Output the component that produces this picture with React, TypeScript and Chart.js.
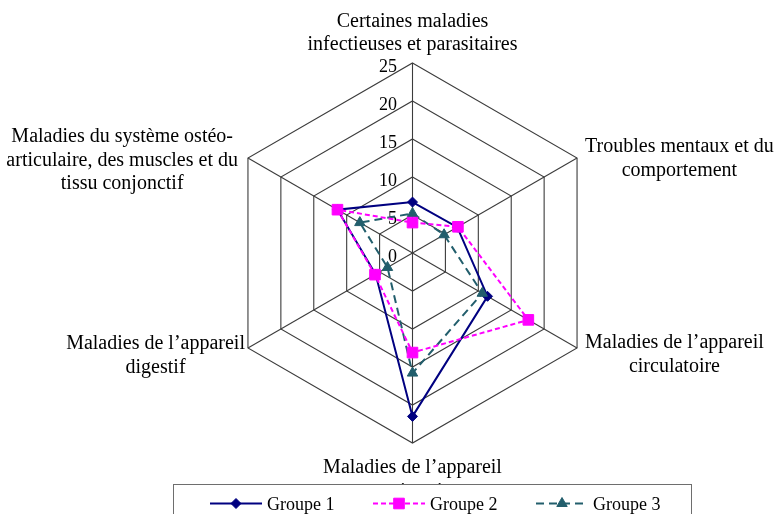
import React, { useEffect, useRef } from 'react';
import { Chart, registerables } from 'chart.js';

Chart.register(...registerables);

// ---- data ----
const CATEGORIES: string[][] = [
  ['Certaines maladies', 'infectieuses et parasitaires'],
  ['Troubles mentaux et du', 'comportement'],
  ['Maladies de l’appareil', 'circulatoire'],
  ['Maladies de l’appareil', 'respiratoire'],
  ['Maladies de l’appareil', 'digestif'],
  ['Maladies du système ostéo-', 'articulaire, des muscles et du', 'tissu conjonctif'],
];
const SERIES_NAMES = ['Groupe 1', 'Groupe 2', 'Groupe 3'];
const GROUPE_1 = [6.7, 6.8, 11.4, 21.5, 5.6, 11.4];
const GROUPE_2 = [4.0, 6.9, 17.6, 13.1, 5.7, 11.4];
const GROUPE_3 = [5.2, 4.8, 10.6, 15.8, 3.8, 8.0];
const TICK_VALUES = [0, 5, 10, 15, 20, 25];

// ---- styling / layout ----
const FONT = "'Liberation Serif', 'Times New Roman', serif";
const GRID = '#3c3c3c';
const COLORS = ['#000080', '#FF00FF', '#225E6C'];
const DASHES: number[][] = [[], [5, 3], [8, 5]];
const POINT_STYLES = ['rectRot', 'rect', 'triangle'];
const POINT_RADII = [5, 7.5, 6];
const LINE_H = 23.5;
// per-label placement relative to the outer vertex
const LABEL_LAYOUT = [
  { align: 'center', dx: 0, dy: -13, fromBottom: true },
  { align: 'left', dx: 8, dy: -6, fromBottom: false },
  { align: 'left', dx: 8, dy: 0, fromBottom: false },
  { align: 'center', dx: 0, dy: 30, fromBottom: false },
  { align: 'right', dx: -3, dy: 1, fromBottom: false },
  { align: 'right', dx: -10, dy: -16, fromBottom: false },
];
const LEGEND_BOX = { left: 173.5, top: 484.5, right: 691.5, bottom: 530 };
const LEGEND_ITEMS = { firstX: 210, step: 163, lineLen: 52, textGap: 5, lineY: 503.5, baseY: 509.5 };

function drawMarker(ctx: CanvasRenderingContext2D, style: string, x: number, y: number, r: number, color: string) {
  ctx.save();
  ctx.setLineDash([]);
  ctx.fillStyle = color;
  ctx.strokeStyle = color;
  ctx.lineWidth = 1;
  ctx.beginPath();
  if (style === 'rectRot') {
    ctx.moveTo(x, y - r);
    ctx.lineTo(x + r, y);
    ctx.lineTo(x, y + r);
    ctx.lineTo(x - r, y);
  } else if (style === 'rect') {
    const s = r * Math.SQRT1_2;
    ctx.rect(x - s, y - s, 2 * s, 2 * s);
  } else {
    for (let k = 0; k < 3; k++) {
      const a = (k * 2 * Math.PI) / 3;
      const px = x + Math.sin(a) * r;
      const py = y - Math.cos(a) * r;
      if (k === 0) ctx.moveTo(px, py);
      else ctx.lineTo(px, py);
    }
  }
  ctx.closePath();
  ctx.fill();
  ctx.stroke();
  ctx.restore();
}

const overlayPlugin = {
  id: 'overlay',
  beforeDatasetsDraw(chart: any) {
    const scale = chart.scales.r;
    const ctx: CanvasRenderingContext2D = chart.ctx;
    ctx.save();
    ctx.font = `18px ${FONT}`;
    ctx.fillStyle = '#000';
    ctx.textAlign = 'right';
    ctx.textBaseline = 'alphabetic';
    scale.ticks.forEach((t: any) => {
      const d = scale.getDistanceFromCenterForValue(t.value);
      ctx.fillText(String(t.value), scale.xCenter - 15.5, scale.yCenter - d + 8.5);
    });
    ctx.restore();
  },
  afterDraw(chart: any) {
    const scale = chart.scales.r;
    const ctx: CanvasRenderingContext2D = chart.ctx;
    // category labels
    ctx.save();
    ctx.font = `20px ${FONT}`;
    ctx.fillStyle = '#000';
    ctx.textAlign = 'center';
    ctx.textBaseline = 'alphabetic';
    const labels: string[][] = chart.data.labels;
    labels.forEach((lines, i) => {
      const p = scale.getPointPosition(i, scale.drawingArea);
      const lay = LABEL_LAYOUT[i];
      const maxW = Math.max(...lines.map((l) => ctx.measureText(l).width));
      let cx = p.x + lay.dx;
      if (lay.align === 'left') cx = p.x + lay.dx + maxW / 2;
      if (lay.align === 'right') cx = p.x + lay.dx - maxW / 2;
      let y0 = p.y + lay.dy;
      if (lay.fromBottom) y0 -= (lines.length - 1) * LINE_H;
      lines.forEach((l, k) => ctx.fillText(l, cx, y0 + k * LINE_H));
    });
    ctx.restore();

    // legend box
    ctx.save();
    ctx.fillStyle = '#ffffff';
    ctx.strokeStyle = '#6e6e6e';
    ctx.lineWidth = 1;
    const b = LEGEND_BOX;
    ctx.fillRect(b.left, b.top, b.right - b.left, b.bottom - b.top);
    ctx.strokeRect(b.left, b.top, b.right - b.left, b.bottom - b.top);
    ctx.font = `18px ${FONT}`;
    ctx.fillStyle = '#000';
    ctx.textAlign = 'left';
    ctx.textBaseline = 'alphabetic';
    chart.data.datasets.forEach((ds: any, i: number) => {
      const x0 = LEGEND_ITEMS.firstX + i * LEGEND_ITEMS.step;
      const x1 = x0 + LEGEND_ITEMS.lineLen;
      ctx.save();
      ctx.strokeStyle = ds.borderColor;
      ctx.lineWidth = ds.borderWidth;
      ctx.setLineDash(ds.borderDash || []);
      ctx.beginPath();
      ctx.moveTo(x0, LEGEND_ITEMS.lineY);
      ctx.lineTo(x1, LEGEND_ITEMS.lineY);
      ctx.stroke();
      ctx.restore();
      drawMarker(ctx, ds.pointStyle, (x0 + x1) / 2, LEGEND_ITEMS.lineY, ds.pointRadius, ds.borderColor);
      ctx.fillStyle = '#000';
      ctx.fillText(ds.label, x1 + LEGEND_ITEMS.textGap, LEGEND_ITEMS.baseY);
    });
    ctx.restore();
  },
};

export default function App() {
  const ref = useRef<HTMLCanvasElement | null>(null);

  useEffect(() => {
    if (!ref.current) return;
    const series = [GROUPE_1, GROUPE_2, GROUPE_3];
    const chart = new Chart(ref.current, {
      type: 'radar',
      data: {
        labels: CATEGORIES as any,
        datasets: series.map((values, i) => ({
          label: SERIES_NAMES[i],
          data: values,
          borderColor: COLORS[i],
          backgroundColor: COLORS[i],
          pointBackgroundColor: COLORS[i],
          pointBorderColor: COLORS[i],
          borderWidth: 2,
          borderDash: DASHES[i],
          pointStyle: POINT_STYLES[i],
          pointRadius: POINT_RADII[i],
          pointBorderWidth: 1,
          fill: false,
          tension: 0,
          order: [3, 1, 2][i],
        })) as any,
      },
      options: {
        responsive: false,
        animation: false,
        events: [],
        font: { family: FONT },
        plugins: {
          legend: { display: false },
          tooltip: { enabled: false },
        },
        scales: {
          r: {
            min: 0,
            max: 25,
            ticks: { display: false, stepSize: 5 },
            afterBuildTicks: (s: any) => {
              s.ticks = TICK_VALUES.map((v) => ({ value: v }));
            },
            grid: { color: GRID, lineWidth: 1.1 },
            angleLines: { color: GRID, lineWidth: 1.1 },
            pointLabels: { display: false },
            afterFit: (s: any) => {
              s.xCenter = 412.5;
              s.yCenter = 253;
              s.drawingArea = 190;
            },
          } as any,
        },
      } as any,
      plugins: [overlayPlugin as any],
    });
    return () => chart.destroy();
  }, []);

  return (
    <div style={{ position: 'absolute', left: 0, top: 0, width: 775, height: 514, background: '#fff' }}>
      <canvas ref={ref} width={775} height={514} style={{ display: 'block' }} />
    </div>
  );
}
